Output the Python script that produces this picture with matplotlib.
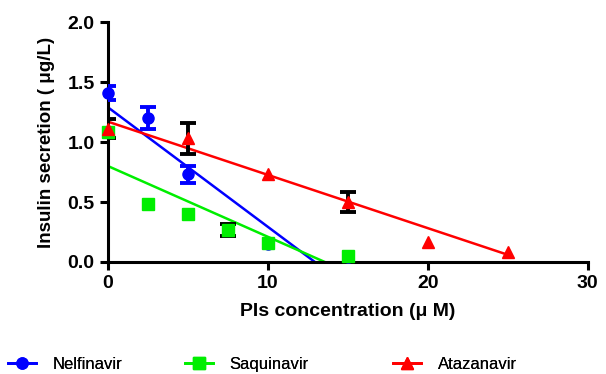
import matplotlib
matplotlib.use("Agg")
import matplotlib.pyplot as plt
import numpy as np
from matplotlib.lines import Line2D

plt.rcParams['font.family'] = ['Liberation Sans', 'DejaVu Sans']

# data
nel_x = [0, 2.5, 5, 10, 15]
nel_y = [1.41, 1.20, 0.73, 0.15, 0.04]
nel_err = [0.06, 0.09, 0.07, 0.0, 0.0]

saq_x = [0, 2.5, 5, 7.5, 10, 15]
saq_y = [1.08, 0.48, 0.40, 0.27, 0.16, 0.05]
saq_err = [0.0, 0.0, 0.0, 0.05, 0.0, 0.0]

ata_x = [0, 5, 10, 15, 20, 25]
ata_y = [1.11, 1.03, 0.73, 0.50, 0.17, 0.08]
ata_err = [0.08, 0.13, 0.0, 0.08, 0.0, 0.0]

# linear fits (intercept, slope, x end)
nel_fit = (1.29, -0.0997, 12.94)
saq_fit = (0.80, -0.059, 13.56)
ata_fit = (1.17, -0.0444, 25.0)

fig = plt.figure(figsize=(6.06, 3.74), dpi=100)
ax = fig.add_axes([0.178, 0.2995, 0.792, 0.6415])


def fit_line(fit, color):
    b, m, xe = fit
    xs = np.array([0, xe])
    ax.plot(xs, b + m * xs, color=color, lw=1.8, zorder=2)


def err_bars(x, y, e, color):
    x, y, e = np.array(x), np.array(y), np.array(e)
    k = e > 0
    ax.errorbar(x[k], y[k], yerr=e[k], fmt='none', ecolor=color,
                elinewidth=2.8, capsize=6, capthick=2.8, zorder=3)


fit_line(nel_fit, 'blue')
fit_line(saq_fit, '#00ee00')
fit_line(ata_fit, 'red')

err_bars(nel_x, nel_y, nel_err, 'blue')
err_bars(saq_x, saq_y, saq_err, 'black')
err_bars(ata_x, ata_y, ata_err, 'black')

ax.plot(nel_x, nel_y, 'o', color='blue', ms=8, clip_on=False, zorder=4)
ax.plot(saq_x, saq_y, 's', color='#00ee00', ms=8, clip_on=False, zorder=4)
ax.plot(ata_x, ata_y, '^', color='red', ms=9, clip_on=False, zorder=5)

ax.set_xlim(0, 30)
ax.set_ylim(0, 2.0)
ax.set_xticks([0, 10, 20, 30])
ax.set_yticks([0, 0.5, 1.0, 1.5, 2.0])
ax.set_yticklabels(['0.0', '0.5', '1.0', '1.5', '2.0'])
for s in ['top', 'right']:
    ax.spines[s].set_visible(False)
for s in ['left', 'bottom']:
    ax.spines[s].set_linewidth(2.2)
ax.tick_params(width=2.2, length=6, labelsize=14)
for lab in ax.get_xticklabels() + ax.get_yticklabels():
    lab.set_fontweight('bold')

ax.set_xlabel('PIs concentration (\u03bc M)', fontsize=14, fontweight='bold',
              labelpad=8)
ax.set_ylabel('Insulin secretion ( \u03bcg/L)', fontsize=13.5, fontweight='bold',
              labelpad=9)

handles = [
    Line2D([], [], color='blue', marker='o', ms=8, lw=2),
    Line2D([], [], color='#00ee00', marker='s', ms=8, lw=2),
    Line2D([], [], color='red', marker='^', ms=9, lw=2),
]
names = ['Nelfinavir', 'Saquinavir', 'Atazanavir']
lx = [-0.012, 0.28, 0.623]
for h, n, x0 in zip(handles, names, lx):
    leg = fig.legend([h], [n], loc='lower left', bbox_to_anchor=(x0, -0.035),
                     frameon=False, fontsize=12, handlelength=1.7,
                     handletextpad=1.0)
    fig.add_artist(leg)

fig.savefig('out.png', dpi=100)
